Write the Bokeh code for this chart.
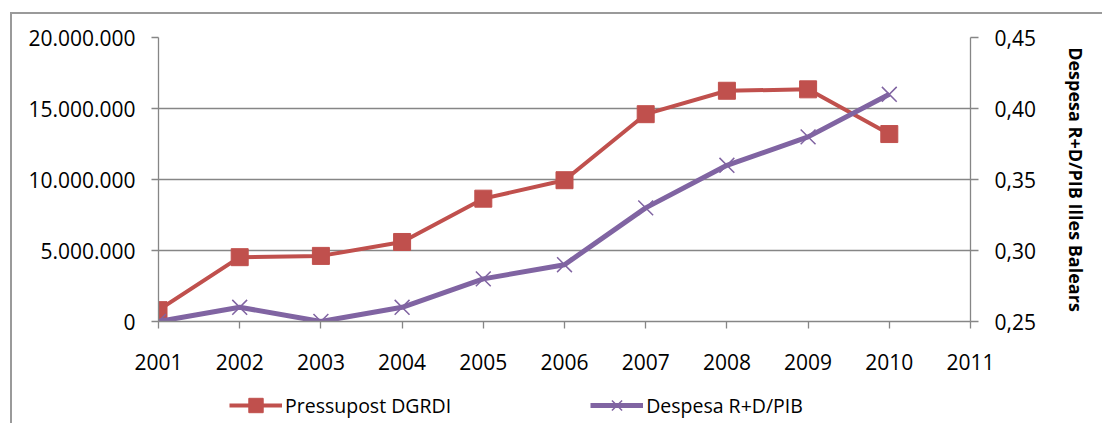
from bokeh.plotting import figure
from bokeh.layouts import column
from bokeh.models import (Range1d, LinearAxis, FixedTicker, CustomJSTickFormatter,
                          Legend, LegendItem)
from bokeh.embed import file_html
from bokeh.resources import INLINE

years = [2001, 2002, 2003, 2004, 2005, 2006, 2007, 2008, 2009, 2010]
pressupost = [800000, 4530000, 4620000, 5600000, 8650000, 9950000, 14600000, 16250000, 16350000, 13200000]
despesa = [0.25, 0.26, 0.25, 0.26, 0.28, 0.29, 0.33, 0.36, 0.38, 0.41]
x_ticks = [2001, 2002, 2003, 2004, 2005, 2006, 2007, 2008, 2009, 2010, 2011]
left_ticks = [0, 5000000, 10000000, 15000000, 20000000]
right_ticks = [0.25, 0.30, 0.35, 0.40, 0.45]
name_a = "Pressupost DGRDI"
name_b = "Despesa R+D/PIB"
right_label = "Despesa R+D/PIB Illes Balears"

RED = "#C0504D"
PURPLE = "#8064A2"
GRAY = "#868686"
FONT = "Open Sans"
BORDER = "2px solid #9a9a9a"

p = figure(width=1092, height=370, output_backend="svg", toolbar_location=None,
           x_range=Range1d(2001, 2011), y_range=Range1d(0, 20000000),
           min_border_left=146, min_border_right=134, min_border_top=23, min_border_bottom=63)
p.styles = {"margin-left": "10px", "margin-top": "12px",
            "border-left": BORDER, "border-top": BORDER}
p.outline_line_color = None
p.background_fill_color = "white"
p.border_fill_color = "white"
p.extra_y_ranges = {"right": Range1d(0.25, 0.45)}

p.xaxis.ticker = FixedTicker(ticks=x_ticks)
p.xaxis.formatter = CustomJSTickFormatter(code="return Math.round(tick).toString();")
p.yaxis.ticker = FixedTicker(ticks=left_ticks)
p.yaxis.formatter = CustomJSTickFormatter(code=r"return Math.round(tick).toString().replace(/\B(?=(\d{3})+(?!\d))/g, '.');")

ax_r = LinearAxis(y_range_name="right", ticker=FixedTicker(ticks=right_ticks),
                  formatter=CustomJSTickFormatter(code="return tick.toFixed(2).replace('.', ',');"),
                  axis_label=right_label)
p.add_layout(ax_r, "right")

for ax in [p.xaxis[0], p.yaxis[0], ax_r]:
    ax.axis_line_color = GRAY
    ax.axis_line_width = 1.3
    ax.major_tick_line_color = GRAY
    ax.major_tick_line_width = 1.3
    ax.major_tick_in = 0
    ax.major_tick_out = 7
    ax.minor_tick_line_color = None
    ax.major_label_text_font = FONT
    ax.major_label_text_font_size = "21px"
    ax.major_label_text_color = "black"
    ax.major_label_standoff = 16
p.xaxis.major_label_standoff = 25
ax_r.major_tick_out = 8
ax_r.axis_label_text_font = FONT
ax_r.axis_label_text_font_style = "bold"
ax_r.axis_label_text_font_size = "18px"
ax_r.axis_label_text_color = "black"
ax_r.axis_label_standoff = 25

p.xgrid.grid_line_color = None
p.ygrid.grid_line_color = GRAY
p.ygrid.grid_line_width = 1.3

line_a = dict(line_color=RED, line_width=4)
mark_a = dict(marker="square", size=17, fill_color=RED, line_color=RED)
line_b = dict(line_color=PURPLE, line_width=5)
mark_b = dict(marker="x", size=21, line_color=PURPLE, line_width=1.5)

p.line(years, pressupost, **line_a)
p.scatter(years, pressupost, **mark_a)
p.line(years, despesa, y_range_name="right", **line_b)
p.scatter(years, despesa, y_range_name="right", **mark_b)

# legend strip below the chart
q = figure(width=1092, height=41, output_backend="svg", toolbar_location=None,
           x_range=Range1d(0, 1), y_range=Range1d(0, 1),
           x_axis_type=None, y_axis_type=None, min_border=0)
q.styles = {"margin-left": "10px", "border-left": BORDER}
q.outline_line_color = None
q.background_fill_color = "white"
q.border_fill_color = "white"
la = q.line([-5, -4], [-5, -4], **line_a)
ma = q.scatter([-5], [-5], **mark_a)
lb = q.line([-5, -4], [-5, -4], **line_b)
mb = q.scatter([-5], [-5], **mark_b)

legend = Legend(items=[LegendItem(label=name_a, renderers=[la, ma]),
                       LegendItem(label=name_b, renderers=[lb, mb])],
                orientation="horizontal", location=(71, 0),
                glyph_width=53, glyph_height=36, label_standoff=3, spacing=139,
                padding=0, margin=0, border_line_color=None, background_fill_alpha=0,
                label_text_font=FONT, label_text_font_size="19.5px", label_text_color="black")
q.add_layout(legend, "center")

layout = column(p, q, spacing=0)
open("out.html", "w").write(file_html(layout, INLINE))
